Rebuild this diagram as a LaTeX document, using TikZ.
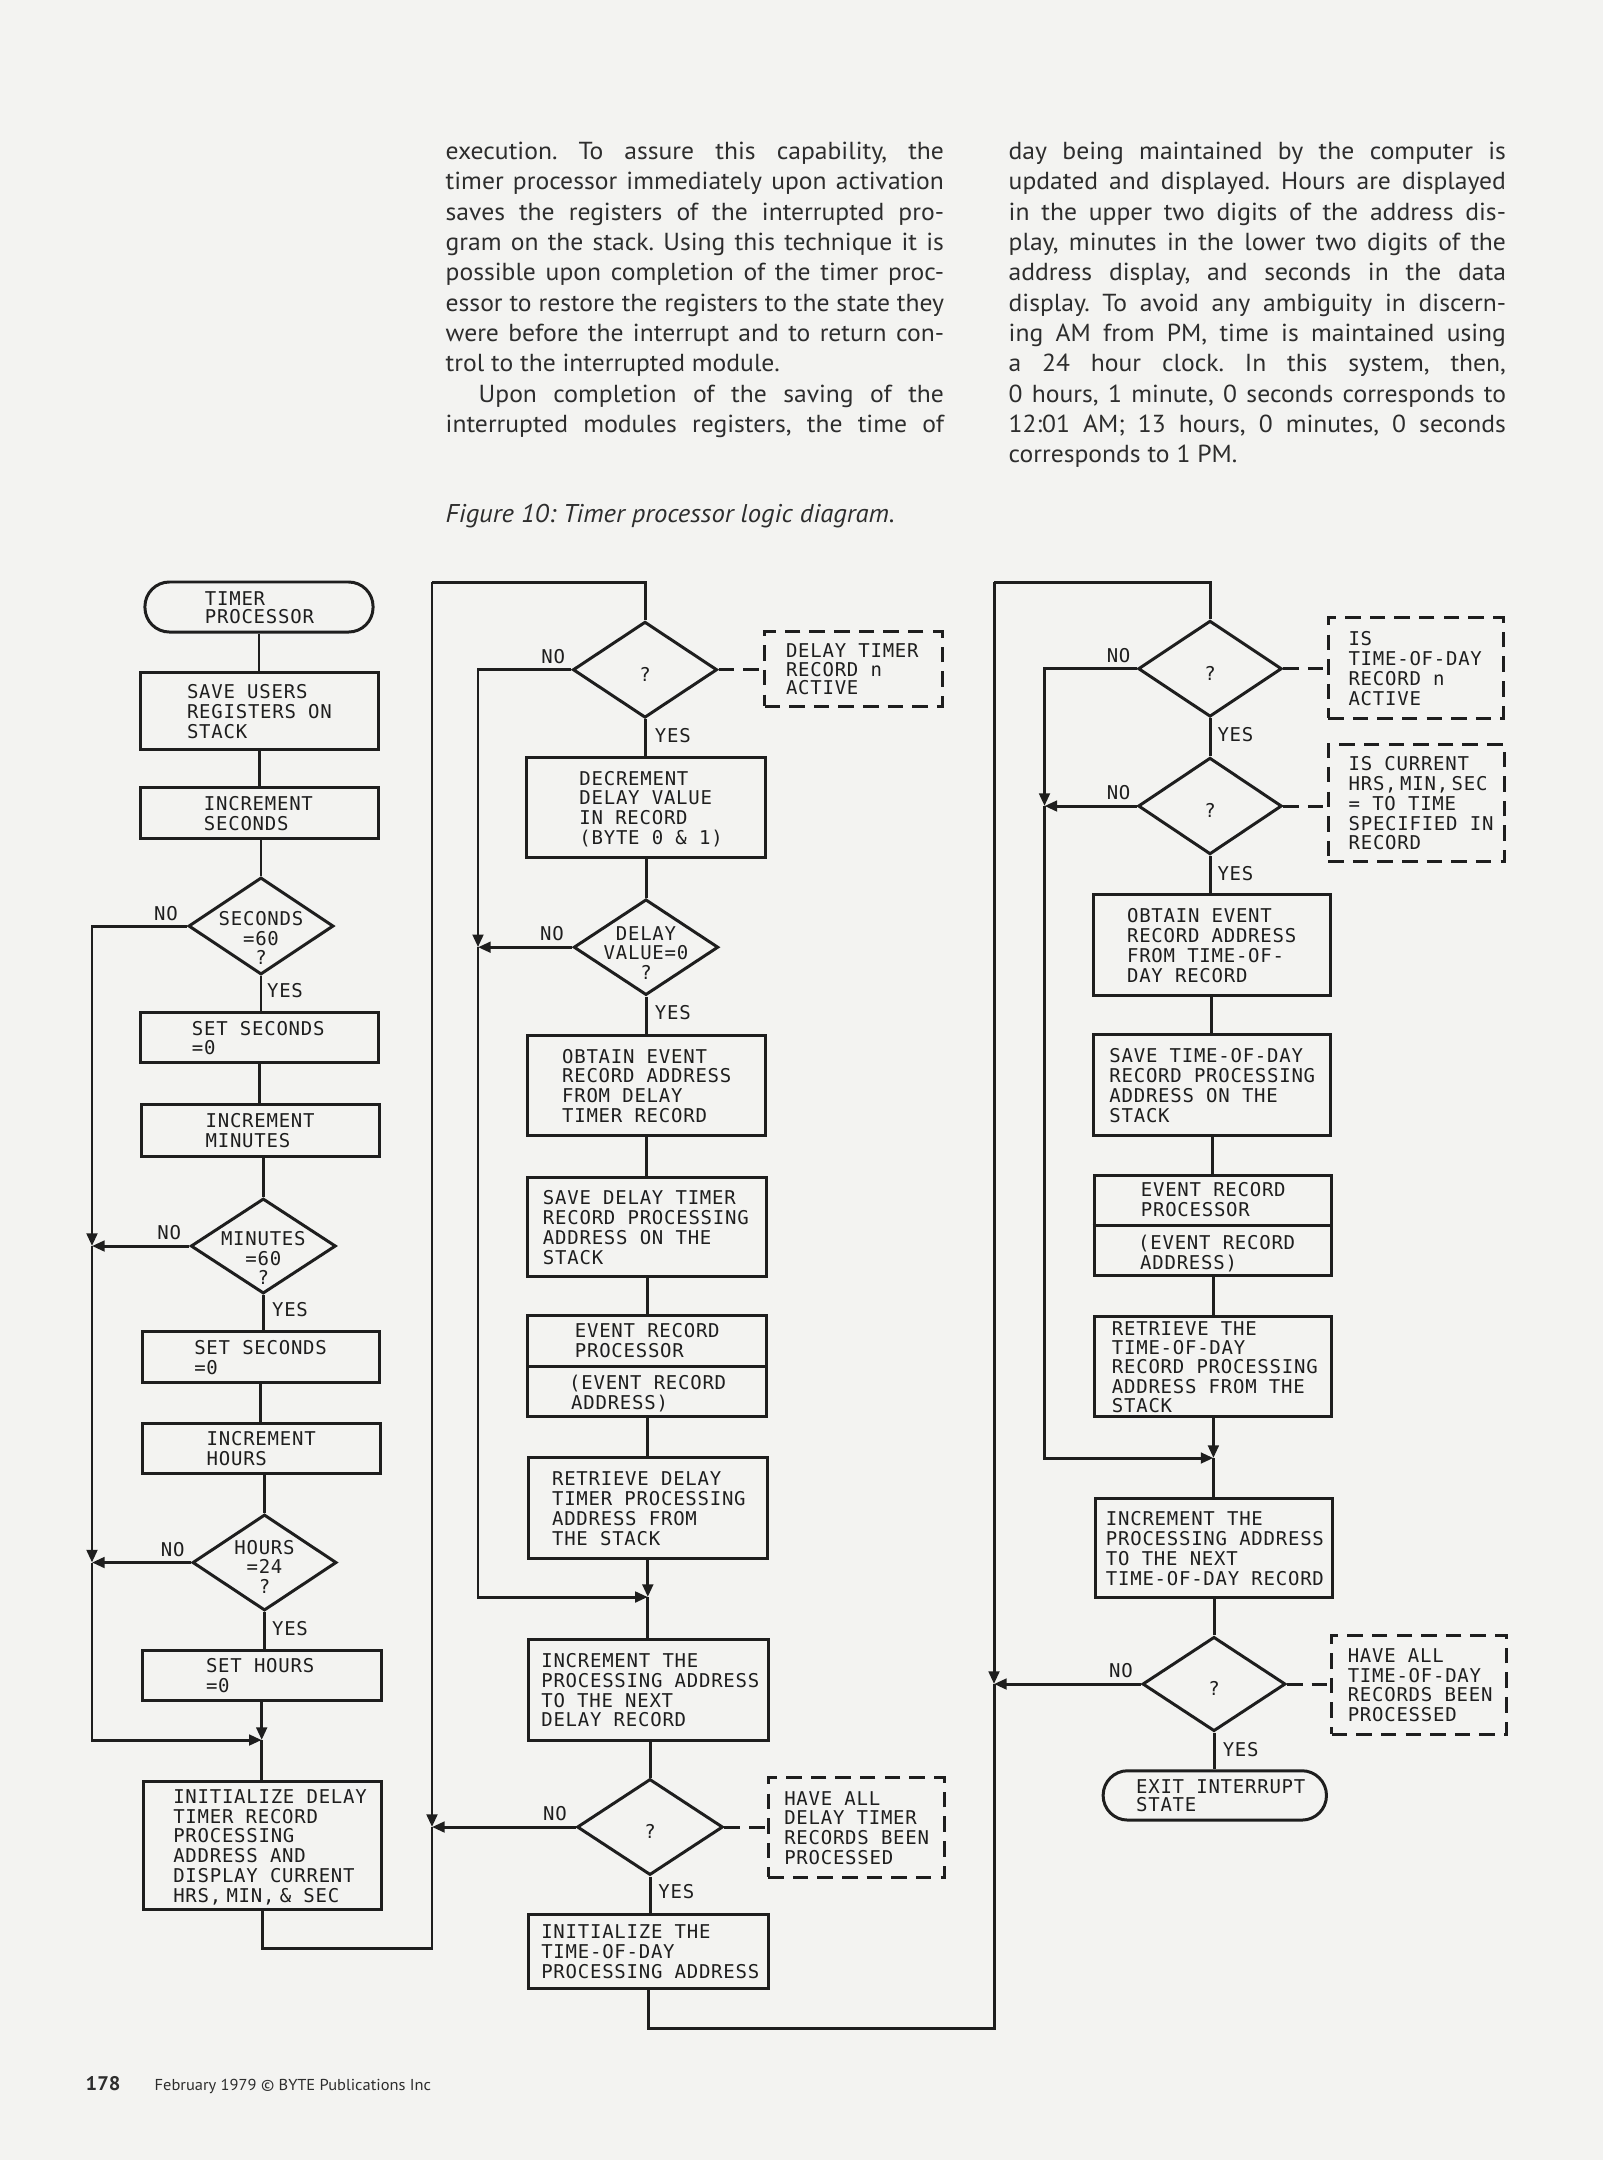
\documentclass[tikz,border=0pt]{standalone}
\usepackage{fontspec}
\setmainfont{PT Sans}[FakeStretch=1.04]
\newfontfamily\flowfont{DejaVu Sans Mono}[LetterSpace=4]
\usetikzlibrary{arrows.meta,shapes.geometric}
\definecolor{ink}{RGB}{30,30,30}
\definecolor{paper}{RGB}{243,243,241}
\definecolor{prosecol}{RGB}{45,45,45}
\newcommand{\flowtext}{\flowfont\fontsize{5.4}{5.4}\selectfont}
\newcommand{\flowbox}[3]{\makebox[#1][l]{\hspace*{#2}\raisebox{-0.9pt}[\height][\depth]{\begin{tabular}{@{}l@{}}#3\end{tabular}}}}
\newcommand{\decq}[2]{\raisebox{#1}[0pt][0pt]{\makebox[0pt]{\begin{tabular}{@{}c@{}}#2\end{tabular}}}}
\newcommand{\JLine}[1]{\makebox[\linewidth][s]{#1}}
\frenchspacing
\tikzset{
  wire/.style={draw=ink, line width=0.85pt},
  arr/.style={wire, -{Triangle[length=3.6pt,width=3pt]}},
  dashlink/.style={draw=ink, line width=0.85pt, dash pattern=on 4.4pt off 2.6pt},
  pbox/.style={draw=ink, line width=0.85pt, rectangle, inner sep=0pt, font=\flowtext, text=ink},
  term/.style={pbox, rounded corners=0.245cm},
  dec/.style={draw=ink, line width=0.85pt, diamond, inner sep=0pt, font=\flowtext, text=ink},
  note/.style={pbox, dash pattern=on 4.4pt off 2.6pt},
  yn/.style={font=\flowtext, inner sep=0pt, text=ink},
  prose/.style={font=\fontsize{7}{8.62}\selectfont, inner sep=0pt, text=prosecol},
}
\begin{document}
\begin{tikzpicture}[x=0.01cm,y=-0.01cm]
\fill[paper] (0,0) rectangle (1603,2160);
\useasboundingbox (0,0) rectangle (1603,2160);

% ---------------- prose ----------------
\node[prose, anchor=base west] (col1) at (445,159.5) {\parbox[t]{4.98cm}{%
\JLine{execution. To assure this capability, the}\\
\JLine{timer processor immediately upon activation}\\
\JLine{saves the registers of the interrupted pro-}\\
\JLine{gram on the stack. Using this technique it is}\\
\JLine{possible upon completion of the timer proc-}\\
\JLine{essor to restore the registers to the state they}\\
\JLine{were before the interrupt and to return con-}\\
trol to the interrupted module.\\
\JLine{\hspace*{0.33cm}Upon completion of the saving of the}\\
\JLine{interrupted modules registers, the time of}}};

\node[prose, anchor=base west] (col2) at (1008,159.5) {\parbox[t]{4.97cm}{%
\JLine{day being maintained by the computer is}\\
\JLine{updated and displayed. Hours are displayed}\\
\JLine{in the upper two digits of the address dis-}\\
\JLine{play, minutes in the lower two digits of the}\\
\JLine{address display, and seconds in the data}\\
\JLine{display. To avoid any ambiguity in discern-}\\
\JLine{ing AM from PM, time is maintained using}\\
\JLine{a 24 hour clock. In this system, then,}\\
\JLine{0 hours, 1 minute, 0 seconds corresponds to}\\
\JLine{12:01 AM; 13 hours, 0 minutes, 0 seconds}\\
corresponds to 1 PM.}};

\node[prose, anchor=base west, font=\fontsize{7.3}{8.62}\selectfont\itshape] (caption) at (445,522) {Figure 10: Timer processor logic diagram.};

% ---------------- left column ----------------
\node[term, minimum width=2.28cm, minimum height=0.5cm] (t0) at (259,607) {\flowbox{2.28cm}{0.6cm}{TIMER\\[-0.45pt]PROCESSOR}};
\node[pbox, minimum width=2.38cm, minimum height=0.76cm] (b1) at (259.5,711) {\flowbox{2.38cm}{0.466cm}{SAVE USERS\\REGISTERS ON\\STACK}};
\node[pbox, minimum width=2.37cm, minimum height=0.506cm] (b2) at (259.5,813) {\flowbox{2.37cm}{0.63cm}{INCREMENT\\SECONDS}};
\node[dec, minimum width=1.45cm, minimum height=0.97cm] (d1) at (261,926) {\decq{-5.5pt}{SECONDS\\=60\\?}};
\node[pbox, minimum width=2.37cm, minimum height=0.5cm] (b3) at (259.5,1037.7) {\flowbox{2.37cm}{0.51cm}{SET SECONDS\\=0}};
\node[pbox, minimum width=2.376cm, minimum height=0.524cm] (b4) at (260.5,1130.5) {\flowbox{2.376cm}{0.64cm}{INCREMENT\\MINUTES}};
\node[dec, minimum width=1.45cm, minimum height=0.95cm] (d2) at (263.3,1246) {\decq{-5.5pt}{MINUTES\\=60\\?}};
\node[pbox, minimum width=2.37cm, minimum height=0.51cm] (b5) at (260.8,1357.2) {\flowbox{2.37cm}{0.52cm}{SET SECONDS\\=0}};
\node[pbox, minimum width=2.377cm, minimum height=0.5cm] (b6) at (261.2,1448.3) {\flowbox{2.377cm}{0.644cm}{INCREMENT\\HOURS}};
\node[dec, minimum width=1.44cm, minimum height=0.96cm] (d3) at (264.5,1562.5) {\decq{-3.3pt}{HOURS\\=24\\?}};
\node[pbox, minimum width=2.387cm, minimum height=0.493cm] (b7) at (261.7,1675.4) {\flowbox{2.387cm}{0.637cm}{SET HOURS\\=0}};
\node[pbox, minimum width=2.384cm, minimum height=1.276cm] (b8) at (262.5,1845.5) {\flowbox{2.384cm}{0.3cm}{INITIALIZE DELAY\\TIMER RECORD\\PROCESSING\\ADDRESS AND\\DISPLAY CURRENT\\HRS,\hspace{1.5pt}MIN,\hspace{1.5pt}\& SEC}};

\node[yn] (no1) at (166,913.3) {NO};
\node[yn] (yes1) at (285,990.7) {YES};
\node[yn] (no2) at (169.3,1232.7) {NO};
\node[yn] (yes2) at (290,1310) {YES};
\node[yn] (no3) at (172.7,1549.3) {NO};
\node[yn] (yes3) at (290,1628.3) {YES};

% ---------------- middle column ----------------
\node[dec, minimum width=1.442cm, minimum height=0.96cm] (d4) at (645,669.7) {\decq{-3.4pt}{?}};
\node[note, minimum width=1.775cm, minimum height=0.743cm] (n1) at (853.4,668.9) {\flowbox{1.775cm}{0.214cm}{DELAY TIMER\\[-0.35pt]RECORD n\\[-0.35pt]ACTIVE}};
\node[pbox, minimum width=2.38cm, minimum height=0.996cm] (b9) at (646,807.5) {\flowbox{2.38cm}{0.525cm}{DECREMENT\\DELAY VALUE\\IN RECORD\\(BYTE 0 \& 1)}};
\node[dec, minimum width=1.446cm, minimum height=0.957cm] (d5) at (646,947.2) {\decq{-3.7pt}{DELAY\\VALUE=0\\?}};
\node[pbox, minimum width=2.386cm, minimum height=1.007cm] (b10) at (646.5,1085.4) {\flowbox{2.386cm}{0.35cm}{OBTAIN EVENT\\RECORD ADDRESS\\FROM DELAY\\TIMER RECORD}};
\node[pbox, minimum width=2.385cm, minimum height=0.997cm] (b11) at (647,1227) {\flowbox{2.385cm}{0.153cm}{SAVE DELAY TIMER\\RECORD PROCESSING\\ADDRESS ON THE\\STACK}};
\node[pbox, minimum width=2.385cm, minimum height=1.007cm] (b12) at (647,1366) {\flowbox{2.385cm}{0.415cm}{\hspace*{0.057cm}EVENT RECORD\\\hspace*{0.057cm}PROCESSOR\\[3.4pt](EVENT RECORD\\\hspace*{0.02cm}ADDRESS)}};
\node[pbox, minimum width=2.393cm, minimum height=1.014cm] (b13) at (647.8,1508.2) {\flowbox{2.393cm}{0.24cm}{RETRIEVE DELAY\\TIMER PROCESSING\\ADDRESS FROM\\THE STACK}};
\node[pbox, minimum width=2.4cm, minimum height=1.017cm] (b14) at (648.2,1689.9) {\flowbox{2.4cm}{0.132cm}{INCREMENT THE\\PROCESSING ADDRESS\\TO THE NEXT\\DELAY RECORD}};
\node[dec, minimum width=1.458cm, minimum height=0.96cm] (d6) at (650,1827) {\decq{-3.4pt}{?}};
\node[note, minimum width=1.76cm, minimum height=0.996cm] (n2) at (856.3,1827.5) {\flowbox{1.76cm}{0.16cm}{HAVE ALL\\DELAY TIMER\\RECORDS BEEN\\PROCESSED}};
\node[pbox, minimum width=2.393cm, minimum height=0.743cm] (b15) at (648.5,1951.2) {\flowbox{2.393cm}{0.125cm}{INITIALIZE THE\\TIME-OF-DAY\\PROCESSING ADDRESS}};

\node[yn] (no4) at (553.2,656.7) {NO};
\node[yn] (yes4) at (672.9,735.7) {YES};
\node[yn] (no5) at (552,933.3) {NO};
\node[yn] (yes5) at (672.9,1012.7) {YES};
\node[yn] (no6) at (555,1813.3) {NO};
\node[yn] (yes6) at (676.4,1891.7) {YES};

% ---------------- right column ----------------
\node[dec, minimum width=1.436cm, minimum height=0.96cm] (d7) at (1210,668.7) {\decq{-3.4pt}{?}};
\node[note, minimum width=1.75cm, minimum height=1.006cm] (n3) at (1415.7,668) {\flowbox{1.75cm}{0.204cm}{IS\\TIME-OF-DAY\\RECORD n\\ACTIVE}};
\node[dec, minimum width=1.436cm, minimum height=0.966cm] (d8) at (1210,806) {\decq{-3.4pt}{?}};
\node[note, minimum width=1.76cm, minimum height=1.174cm] (n4) at (1416.3,803) {\flowbox{1.76cm}{0.204cm}{IS CURRENT\\HRS,\hspace{1pt}MIN,\hspace{1pt}SEC\\= TO TIME\\SPECIFIED IN\\RECORD}};
\node[pbox, minimum width=2.364cm, minimum height=1cm] (b16) at (1211.8,945) {\flowbox{2.364cm}{0.335cm}{OBTAIN EVENT\\RECORD ADDRESS\\FROM TIME-OF-\\DAY RECORD}};
\node[pbox, minimum width=2.37cm, minimum height=1.014cm] (b17) at (1212,1085) {\flowbox{2.37cm}{0.16cm}{SAVE TIME-OF-DAY\\RECORD PROCESSING\\ADDRESS ON THE\\STACK}};
\node[pbox, minimum width=2.375cm, minimum height=0.994cm] (b18) at (1213,1225.7) {\flowbox{2.375cm}{0.44cm}{\hspace*{0.027cm}EVENT RECORD\\\hspace*{0.027cm}PROCESSOR\\[3.6pt](EVENT RECORD\\\hspace*{0.02cm}ADDRESS)}};
\node[pbox, minimum width=2.368cm, minimum height=1cm, font=\flowfont\fontsize{5.4}{5.04}\selectfont] (b19) at (1213.4,1366.4) {\flowbox{2.368cm}{0.17cm}{RETRIEVE THE\\TIME-OF-DAY\\RECORD PROCESSING\\ADDRESS FROM THE\\STACK}};
\node[pbox, minimum width=2.36cm, minimum height=0.99cm] (b20) at (1214,1548) {\flowbox{2.36cm}{0.1cm}{INCREMENT THE\\PROCESSING ADDRESS\\TO THE NEXT\\TIME-OF-DAY RECORD}};
\node[dec, minimum width=1.43cm, minimum height=0.943cm] (d9) at (1214,1684) {\decq{-3.4pt}{?}};
\node[note, minimum width=1.75cm, minimum height=0.993cm] (n5) at (1419.3,1684.7) {\flowbox{1.75cm}{0.16cm}{HAVE ALL\\TIME-OF-DAY\\RECORDS BEEN\\PROCESSED}};
\node[term, minimum width=2.232cm, minimum height=0.493cm] (e1) at (1214.8,1795.4) {\flowbox{2.232cm}{0.33cm}{EXIT INTERRUPT\\[-0.4pt]STATE}};

\node[yn] (no7) at (1118.6,656) {NO};
\node[yn] (yes7) at (1235.4,735) {YES};
\node[yn] (no8) at (1118.6,792.7) {NO};
\node[yn] (yes8) at (1235.4,873.3) {YES};
\node[yn] (no9) at (1121,1670.7) {NO};
\node[yn] (yes9) at (1240.7,1749.3) {YES};

% ---------------- footer ----------------
\node[anchor=base west, inner sep=0pt, text=prosecol, font=\fontsize{5.6}{7}\selectfont\bfseries] (pgno) at (85,2090.7) {178};
\node[anchor=base west, inner sep=0pt, text=prosecol, font=\fontsize{4.5}{5}\selectfont] (credit) at (154,2090.7) {February 1979 © BYTE Publications Inc};

% ---------------- connectors: left ----------------
\draw[wire] (t0.south) -- (t0.south |- b1.north);
\draw[wire] (b1.south) -- (b1.south |- b2.north);
\draw[wire] (d1.north) -- (d1.north |- b2.south);
\draw[wire] (d1.south) -- (d1.south |- b3.north);
\draw[wire] (b3.south) -- (b3.south |- b4.north);
\draw[wire] (d2.north) -- (d2.north |- b4.south);
\draw[wire] (d2.south) -- (d2.south |- b5.north);
\draw[wire] (b5.south) -- (b5.south |- b6.north);
\draw[wire] (d3.north) -- (d3.north |- b6.south);
\draw[wire] (d3.south) -- (d3.south |- b7.north);
\coordinate (jL2) at (92,1246);
\coordinate (jL3) at (92,1562.5);
\coordinate (jL4) at (b7.south |- 0,1740);
\draw[arr] (d1.west) -| (jL2);
\draw[arr] (d2.west) -- (jL2);
\draw[arr] (jL2) -- (jL3);
\draw[arr] (d3.west) -- (jL3);
\draw[arr] (jL3) |- (jL4);
\draw[arr] (b7.south) -- (jL4);
\draw[wire] (jL4) -- (jL4 |- b8.north);

% ---------------- connectors: middle ----------------
\coordinate (cA) at (432,1948);
\coordinate (cB) at (432,582);
\coordinate (jM3) at (432,1827);
\draw[wire] (b8.south) |- (cA) -- (jM3);
\draw[arr] (cB) -- (jM3);
\draw[wire] (cB) -| (d4.north);
\draw[arr] (d6.west) -- (jM3);
\draw[dashlink] (d4.east) -- (d4.east -| n1.west);
\draw[wire] (d4.south) -- (d4.south |- b9.north);
\draw[wire] (d5.north) -- (d5.north |- b9.south);
\draw[wire] (d5.south) -- (d5.south |- b10.north);
\draw[wire] (b10.south) -- (b10.south |- b11.north);
\draw[wire] (b11.south) -- (b11.south |- b12.north);
\draw[wire] (b12.west) -- (b12.east);
\draw[wire] (b12.south) -- (b12.south |- b13.north);
\coordinate (jM1) at (478,947.2);
\coordinate (jM2) at (b13.south |- 0,1597);
\draw[arr] (d4.west) -| (jM1);
\draw[arr] (d5.west) -- (jM1);
\draw[arr] (jM1) |- (jM2);
\draw[arr] (b13.south) -- (jM2);
\draw[wire] (jM2) -- (jM2 |- b14.north);
\draw[wire] (d6.north) -- (d6.north |- b14.south);
\draw[dashlink] (d6.east) -- (d6.east -| n2.west);
\draw[wire] (d6.south) -- (d6.south |- b15.north);

% ---------------- connectors: right ----------------
\coordinate (cC) at (994,2028);
\coordinate (cD) at (994,582);
\coordinate (jR4) at (994,1684);
\draw[wire] (b15.south) |- (cC) -- (jR4);
\draw[arr] (cD) -- (jR4);
\draw[wire] (cD) -| (d7.north);
\draw[arr] (d9.west) -- (jR4);
\draw[dashlink] (d7.east) -- (d7.east -| n3.west);
\draw[wire] (d7.south) -- (d8.north);
\draw[dashlink] (d8.east) -- (d8.east -| n4.west);
\draw[wire] (d8.south) -- (d8.south |- b16.north);
\draw[wire] (b16.south) -- (b16.south |- b17.north);
\draw[wire] (b17.south) -- (b17.south |- b18.north);
\draw[wire] (b18.west) -- (b18.east);
\draw[wire] (b18.south) -- (b18.south |- b19.north);
\coordinate (jR1) at (1044.5,806);
\coordinate (jR2) at (b19.south |- 0,1458);
\draw[arr] (d7.west) -| (jR1);
\draw[arr] (d8.west) -- (jR1);
\draw[arr] (jR1) |- (jR2);
\draw[arr] (b19.south) -- (jR2);
\draw[wire] (jR2) -- (jR2 |- b20.north);
\draw[wire] (d9.north) -- (d9.north |- b20.south);
\draw[dashlink] (d9.east) -- (d9.east -| n5.west);
\draw[wire] (d9.south) -- (d9.south |- e1.north);
\end{tikzpicture}
\end{document}
